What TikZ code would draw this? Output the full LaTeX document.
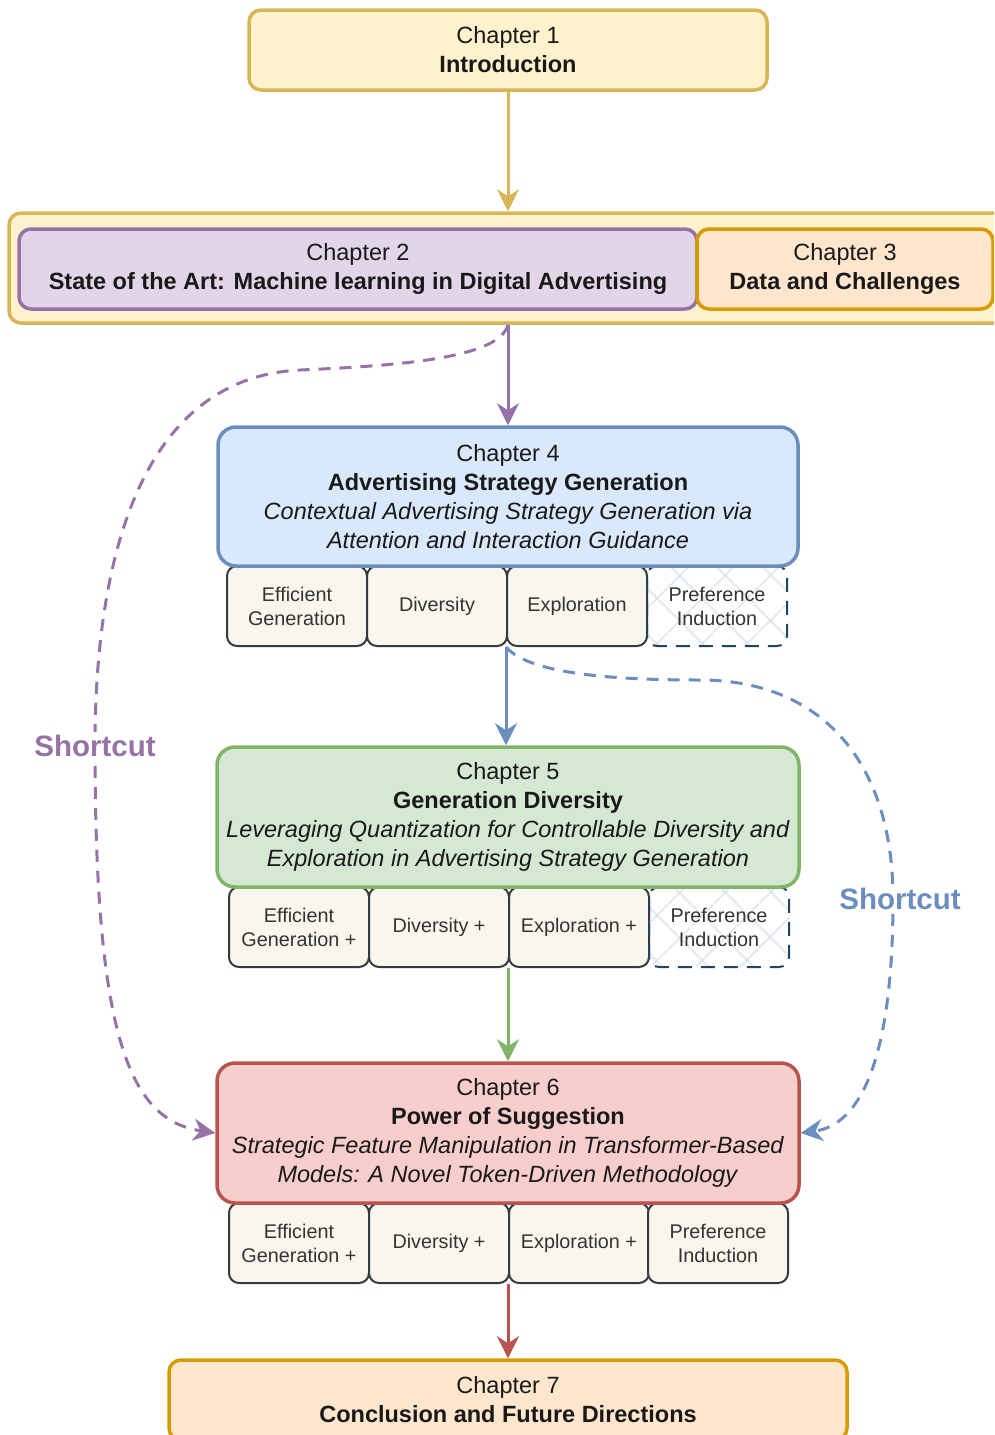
\documentclass[tikz,border=0pt]{standalone}
\usepackage{fontspec}
\setmainfont{Liberation Sans}
\usetikzlibrary{arrows.meta,patterns.meta}

\definecolor{ylwF}{HTML}{FFF2CC}
\definecolor{ylwD}{HTML}{D6B656}
\definecolor{purF}{HTML}{E1D5E7}
\definecolor{purD}{HTML}{9673A6}
\definecolor{orgF}{HTML}{FFE6CC}
\definecolor{orgD}{HTML}{D79B00}
\definecolor{bluF}{HTML}{DAE8FC}
\definecolor{bluD}{HTML}{6C8EBF}
\definecolor{grnF}{HTML}{D5E8D4}
\definecolor{grnD}{HTML}{82B366}
\definecolor{redF}{HTML}{F8CECC}
\definecolor{redD}{HTML}{B85450}
\definecolor{subF}{HTML}{F9F7ED}
\definecolor{subD}{HTML}{36393D}
\definecolor{prefD}{HTML}{23445D}
\definecolor{prefH}{HTML}{D3DEE8}

\tikzset{
	chapbox/.style={draw, line width=3.5pt, rounded corners=12pt, align=center, inner sep=0pt, text=black!90, font=\fontsize{23.5}{29}\selectfont},
	subbox/.style={draw=subD, fill=subF, line width=2pt, rounded corners=10pt, minimum width=140pt, minimum height=80pt, align=center, inner sep=0pt, text=black!80, font=\fontsize{19.8}{24}\selectfont},
	prefbox/.style={subbox, fill=none, draw=prefD, dash pattern=on 14pt off 9pt, pattern={Hatch[angle=45,distance=32pt,line width=1.5pt]}, pattern color=prefH},
	link/.style={line width=3pt, -{Stealth[length=22pt,width=22pt,inset=7pt]}},
	shortcut/.style={link, dash pattern=on 12pt off 9pt},
	sclabel/.style={fill=white, inner sep=3pt, font=\fontsize{29.5}{34}\selectfont\bfseries}
}

\begin{document}
\begin{tikzpicture}[x=1pt, y=-1pt]
			%%%%% START %%%%%
			\useasboundingbox (0, 0) rectangle (994, 1435);
			\clip (0, 0) rectangle (994, 1435);
			
			\node[chapbox, draw=ylwD, fill=ylwF, minimum width=518pt, minimum height=80pt] (ch1) at (508, 50) {Chapter 1\\\textbf{Introduction}};
			
			\node[chapbox, draw=ylwD, fill=ylwF, minimum width=998pt, minimum height=110pt] (outer) at (508, 268) {};
			\node[chapbox, draw=purD, fill=purF, minimum width=678pt, minimum height=80pt] (ch2) at (358, 269) {Chapter 2\\\textbf{State of the Art: Machine learning in Digital Advertising}};
			\node[chapbox, draw=orgD, fill=orgF, minimum width=296pt, minimum height=80pt] (ch3) at (845, 269) {Chapter 3\\\textbf{Data and Challenges}};
			
			% boxes under chapter 4
			\node[subbox] (r4a) at (297, 606) {Efficient\\Generation};
			\node[subbox] (r4b) at (437, 606) {Diversity};
			\node[subbox] (r4c) at (577, 606) {Exploration};
			\node[prefbox] (r4d) at (717, 606) {Preference\\Induction};
			\node[chapbox, draw=bluD, fill=bluF, rounded corners=18pt, minimum width=580pt, minimum height=139pt] (ch4) at (508, 496.5) {Chapter 4\\\textbf{Advertising Strategy Generation}\\\textit{Contextual Advertising Strategy Generation via}\\\textit{Attention and Interaction Guidance}};
			
			% boxes under chapter 5
			\node[subbox] (r5a) at (299, 927) {Efficient\\Generation +};
			\node[subbox] (r5b) at (439, 927) {Diversity +};
			\node[subbox] (r5c) at (579, 927) {Exploration +};
			\node[prefbox] (r5d) at (719, 927) {Preference\\Induction};
			\node[chapbox, draw=grnD, fill=grnF, rounded corners=18pt, minimum width=582pt, minimum height=140pt] (ch5) at (508, 817) {Chapter 5\\\textbf{Generation Diversity}\\\textit{Leveraging Quantization for Controllable Diversity and}\\\textit{Exploration in Advertising Strategy Generation}};
			
			% boxes under chapter 6
			\node[subbox] (r6a) at (299, 1243) {Efficient\\Generation +};
			\node[subbox] (r6b) at (439, 1243) {Diversity +};
			\node[subbox] (r6c) at (579, 1243) {Exploration +};
			\node[subbox] (r6d) at (718, 1243) {Preference\\Induction};
			\node[chapbox, draw=redD, fill=redF, rounded corners=18pt, minimum width=582pt, minimum height=140pt] (ch6) at (508, 1133) {Chapter 6\\\textbf{Power of Suggestion}\\\textit{Strategic Feature Manipulation in Transformer-Based}\\\textit{Models: A Novel Token-Driven Methodology}};
			
			\node[chapbox, draw=orgD, fill=orgF, minimum width=678pt, minimum height=80pt] (ch7) at (508, 1400) {Chapter 7\\\textbf{Conclusion and Future Directions}};
			
			% main flow
			\draw[link, draw=ylwD, fill=ylwD] (ch1) -- (ch1.south |- outer.north);
			\draw[link, draw=purD, fill=purD] (outer.south) -- (ch4);
			\draw[link, draw=bluD, fill=bluD] (r4c.south west) -- (r4c.south west |- ch5.north);
			\draw[link, draw=grnD, fill=grnD] (r5c.south west) -- (r5c.south west |- ch6.north);
			\draw[link, draw=redD, fill=redD] (r6c.south west) -- (r6c.south west |- ch7.north);
			
			% shortcuts
			\draw[shortcut, draw=purD, fill=none] (outer.south) .. controls (500, 355) and (420, 365) .. (300, 370) .. controls (140, 378) and (95, 560) .. (95, 746) node[sclabel, text=purD] (sc1) {Shortcut} .. controls (95, 1040) and (130, 1120) .. (ch6.west);
			\draw[shortcut, draw=bluD, fill=none] (r4c.south west) .. controls (530, 675) and (620, 680) .. (700, 680) .. controls (820, 680) and (893, 760) .. (893, 899) node[sclabel, text=bluD, xshift=7pt] (sc2) {Shortcut} .. controls (893, 1060) and (860, 1125) .. (ch6.east);
			
			%%%%% END %%%%%
\end{tikzpicture}
\end{document}
